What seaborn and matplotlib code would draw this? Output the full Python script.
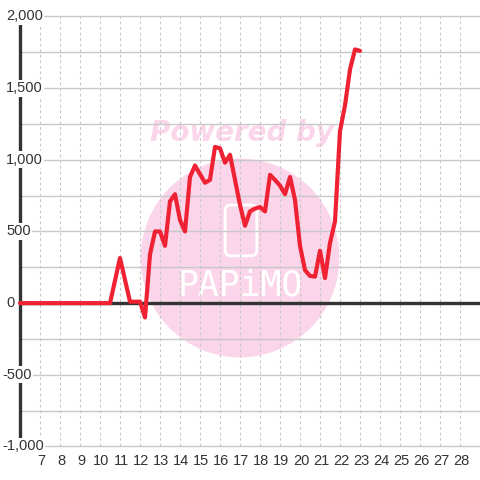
import numpy as np
import pandas as pd
import matplotlib
matplotlib.use("Agg")
import matplotlib.pyplot as plt
import seaborn as sns
from matplotlib.patches import Circle, FancyBboxPatch

# data
x_vals = [6, 10.5, 11, 11.5, 12, 12.25, 12.5, 12.75, 13, 13.25, 13.5, 13.75, 14,
          14.25, 14.5, 14.75, 15, 15.25, 15.5, 15.75, 16, 16.25, 16.5, 16.75, 17,
          17.25, 17.5, 17.75, 18, 18.25, 18.5, 18.75, 19, 19.25, 19.5, 19.75, 20,
          20.25, 20.5, 20.75, 21, 21.25, 21.5, 21.75, 22, 22.25, 22.5, 22.75, 23]
y_vals = [0, 0, 315, 10, 10, -100, 340, 500, 500, 400, 710, 760, 580,
          500, 880, 960, 900, 840, 860, 1090, 1080, 980, 1035, 860, 685,
          540, 640, 660, 670, 640, 895, 860, 820, 760, 880, 720, 400,
          230, 190, 185, 365, 175, 420, 570, 1200, 1380, 1630, 1770, 1760]
x_ticks = list(range(7, 29))
y_grid = list(range(-1000, 2001, 250))
y_labels = [-1000, -500, 0, 500, 1000, 1500, 2000]

df = pd.DataFrame({"x": x_vals, "y": y_vals})

sns.set_style("white")
plt.rcParams["font.family"] = ["Liberation Sans", "DejaVu Sans"]

fig = plt.figure(figsize=(4.8, 4.8), dpi=100, facecolor="white")
ax = fig.add_axes([0, 0, 1, 1])
ax.set_xlim(5, 29)
ax.set_ylim(-1234, 2115)

# watermark
ax.add_patch(Circle((0.5, 0.4625), 0.207, transform=ax.transAxes,
                    color="#fbd5ea", zorder=0.5, lw=0))
ax.text(0.504, 0.722, "Powered by", transform=ax.transAxes, ha="center", va="center",
        fontsize=20, fontweight="bold", style="italic", color="#fbd5ea",
        family="DejaVu Sans", zorder=0.6)
ax.add_patch(FancyBboxPatch((0.469, 0.467), 0.066, 0.106, transform=ax.transAxes,
                            boxstyle="round,pad=0,rounding_size=0.012",
                            fc="none", ec="white", lw=2, zorder=0.6))
ax.text(0.5, 0.405, "PAPiMO", transform=ax.transAxes, ha="center", va="center",
        fontsize=25, color="white", family="DejaVu Sans Mono", zorder=0.6)

# grid
for v in y_grid:
    if v != 0:
        ax.plot([6, 29], [v, v], color="#c8c8c8", lw=1, zorder=1)
for t in x_ticks:
    ax.plot([t, t], [-1000, 2000], color="#c8c8c8", lw=0.8,
            ls=(0, (2.5, 2.5)), zorder=1)

# axis lines
ax.plot([6, 29], [0, 0], color="#333333", lw=2.4, zorder=2)
ax.plot([6, 6], [-1000, 1950], color="#333333", lw=2.4, zorder=2)

sns.lineplot(data=df, x="x", y="y", ax=ax, color="#ee2233", lw=3,
             estimator=None, sort=False, zorder=3)
ax.axis("off")

for v in y_labels:
    x0 = 5 + (6 if v >= 0 else 2) / 20
    ax.text(x0, v, f"{v:,}", ha="left", va="center", fontsize=10.5,
            color="#333333", zorder=4,
            bbox=dict(fc="white", ec="none", pad=1))
for t in x_ticks:
    ax.text(t + 0.05, -1103, str(t), ha="center", va="center", fontsize=10.5,
            color="#333333", zorder=4)

fig.savefig("out.png", dpi=100, facecolor="white")
